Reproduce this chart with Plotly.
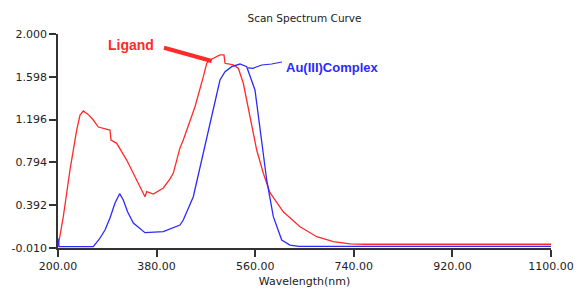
import plotly.graph_objects as go

# Wavelength (nm) and absorbance
ligand_nm = [200, 209.7, 221.9, 234.1, 240.2, 246.2, 255, 264.4, 273.6, 284, 291.8, 294.9, 296.8,
             307.2, 325.4, 343.7, 358.8, 361.9, 374.0, 392.2, 404.5, 410.5, 422.7, 428.7, 450.1,
             465.3, 471.5, 477.5, 486, 495.7, 503.0, 504.9, 520.0, 529.2, 538.3, 550.5, 562.7,
             574.8, 587.0, 611.3, 641.8, 672.3, 702.6, 733.1, 760, 1100]
ligand_abs = [0.0, 0.284, 0.723, 1.098, 1.239, 1.277, 1.245, 1.192, 1.126, 1.11, 1.105, 1.098, 1.004,
              0.973, 0.816, 0.629, 0.472, 0.519, 0.497, 0.554, 0.640, 0.694, 0.930, 1.004, 1.317,
              1.599, 1.725, 1.756, 1.78, 1.803, 1.803, 1.725, 1.709, 1.678, 1.537, 1.223, 0.910,
              0.692, 0.510, 0.330, 0.190, 0.096, 0.049, 0.028, 0.025, 0.025]

complex_nm = [200, 202, 230, 264.4, 275, 285.8, 294.9, 304.1, 312.5, 319.2, 327, 337.5, 358.8,
              392.2, 422.7, 428.7, 447.0, 465.3, 480.6, 495.7, 504.9, 517.1, 532.3, 544.5,
              559.6, 568.8, 581.0, 593.1, 608.4, 623.5, 640, 1100]
complex_abs = [0.08, 0.002, 0.002, 0.002, 0.07, 0.159, 0.272, 0.413, 0.500, 0.441, 0.33, 0.225, 0.134,
               0.143, 0.206, 0.253, 0.472, 0.882, 1.223, 1.568, 1.646, 1.693, 1.718, 1.693,
               1.474, 1.129, 0.629, 0.284, 0.065, 0.018, 0.006, 0.006]

x_ticks = [200, 380, 560, 740, 920, 1100]
x_tick_labels = ["200.00", "380.00", "560.00", "740.00", "920.00", "1100.00"]
y_ticks = [-0.010, 0.392, 0.794, 1.196, 1.598, 2.000]
y_tick_labels = ["-0.010", "0.392", "0.794", "1.196", "1.598", "2.000"]

RED = "#ff2a2a"
BLUE = "#2a2aff"

fig = go.Figure()
fig.add_trace(go.Scatter(x=ligand_nm, y=ligand_abs, mode="lines",
                         line=dict(color=RED, width=1.3), name="Ligand", showlegend=False))
fig.add_trace(go.Scatter(x=complex_nm, y=complex_abs, mode="lines",
                         line=dict(color=BLUE, width=1.3), name="Au(III)Complex", showlegend=False))

# label pointer lines
fig.add_shape(type="line", xref="x", yref="y", x0=393.5, y0=1.871, x1=480.6, y1=1.746,
              line=dict(color=RED, width=4))
fig.add_shape(type="path", xref="x", yref="y",
              path="M 546.9,1.681 L 556,1.678 L 571.9,1.709 L 590,1.718 L 608.9,1.737",
              line=dict(color=BLUE, width=1.2))

fig.add_annotation(x=333.3, y=1.897, xref="x", yref="y", text="<b>Ligand</b>", showarrow=False,
                   font=dict(family="Liberation Sans", size=14, color=RED))
fig.add_annotation(x=612, y=1.681, xref="x", yref="y", text="<b>Au(III)Complex</b>",
                   showarrow=False, xanchor="left",
                   font=dict(family="Liberation Sans", size=13, color=BLUE))

fig.update_layout(
    width=578, height=293,
    margin=dict(l=58, r=27, t=34, b=45, autoexpand=False),
    paper_bgcolor="white", plot_bgcolor="white",
    title=dict(text="Scan Spectrum Curve", x=0.5, xref="paper", y=1 - 18 / 293, yanchor="middle",
               font=dict(family="DejaVu Sans", size=10.5, color="#222")),
    font=dict(family="DejaVu Sans", size=11, color="#222"),
)
fig.update_xaxes(range=[200, 1100], tickvals=x_ticks, ticktext=x_tick_labels, automargin=False,
                 showgrid=False, zeroline=False, showline=True, linecolor="#333", linewidth=1.5,
                 ticks="outside", ticklen=7, tickcolor="#333", tickwidth=1.5,
                 title=dict(text="Wavelength(nm)", standoff=5, font=dict(size=11)))
fig.update_yaxes(range=[-0.010, 2.000], tickvals=y_ticks, ticktext=y_tick_labels, automargin=False,
                 showgrid=False, zeroline=False, showline=True, linecolor="#333", linewidth=1.5,
                 ticks="outside", ticklen=7, tickcolor="#333", tickwidth=1.5)

fig.write_html("out.html", config={"displayModeBar": False},
               post_script="document.body.style.margin='0';document.body.style.overflow='hidden';")
